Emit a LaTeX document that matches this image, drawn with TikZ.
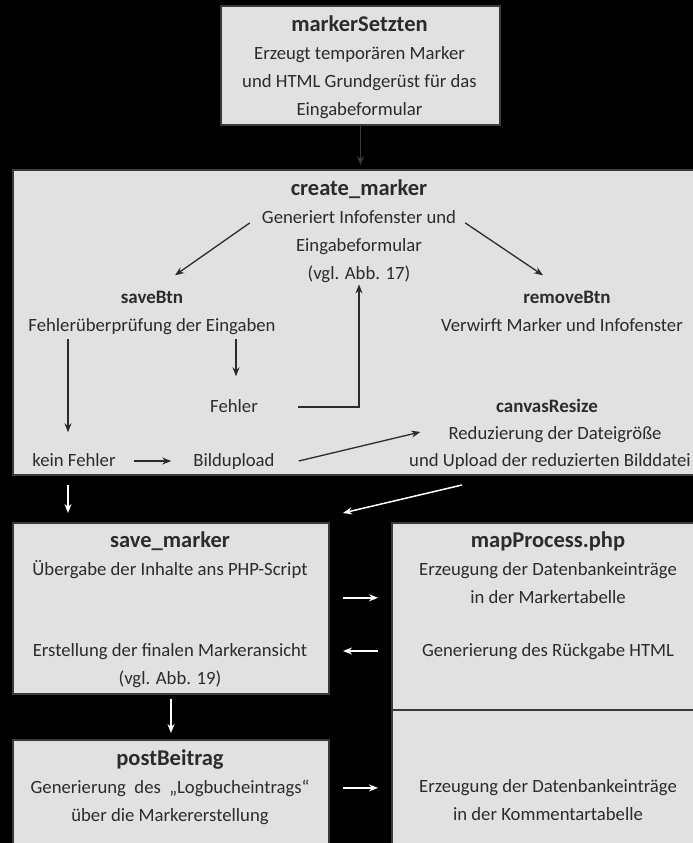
\documentclass[tikz,border=0pt]{standalone}
\usepackage{fontspec}
\setmainfont{Carlito}
\usetikzlibrary{positioning,arrows.meta}

\definecolor{boxfill}{HTML}{E1E1E1}
\definecolor{boxline}{HTML}{3A3A3A}
\definecolor{ink}{HTML}{2B2B2B}

\tikzset{
  box/.style={draw=boxline, line width=2pt, fill=boxfill, inner sep=0pt, anchor=north west},
  boxhead/.style={font=\bfseries\fontsize{22.5}{26}\selectfont, text=ink, inner sep=0pt, text height=14pt, text depth=3pt},
  head/.style={font=\bfseries\fontsize{19}{22}\selectfont, text=ink, inner sep=0pt, text height=14pt, text depth=3pt},
  txt/.style={font=\fontsize{18.7}{22}\selectfont, text=ink, inner sep=0pt, text height=14pt, text depth=3pt},
  darrow/.style={draw=ink, line width=1.3pt, -{Stealth[length=9pt,width=7pt]}},
  warrow/.style={draw=white, line width=1.5pt, -{Stealth[length=9pt,width=7pt]}},
  node distance=10.5pt
}

\begin{document}
\begin{tikzpicture}[x=1pt,y=-1pt]
\fill[black] (0,0) rectangle (693,843);
\useasboundingbox (0,0) rectangle (693,843);
\clip (0,0) rectangle (693,843);

% boxes
\node[box, minimum width=279pt, minimum height=119pt] (setzten) at (220,5) {};
\node[box, minimum width=700pt, minimum height=305pt] (create) at (12,169) {};
\node[box, minimum width=316pt, minimum height=171pt] (savem) at (12,522) {};
\node[box, minimum width=330pt, minimum height=187pt] (mapp) at (391,522) {};
\node[box, minimum width=330pt, minimum height=150pt] (kommbox) at (391,709) {};
\node[box, minimum width=316pt, minimum height=130pt] (postb) at (12,739) {};

% markerSetzten
\node[boxhead] (ms) at (359.5,26) {markerSetzten};
\node[txt, below=of ms] (ms1) {Erzeugt temporären Marker};
\node[txt, below=of ms1] (ms2) {und HTML Grundgerüst für das};
\node[txt, below=of ms2] (ms3) {Eingabeformular};

% create_marker
\node[boxhead] (cm) at (359,190) {create\_marker};
\node[txt, below=of cm] (gen) {Generiert Infofenster und};
\node[txt, below=of gen] (eing) {Eingabeformular};
\node[txt, below=of eing] (vgl17) {(vgl. Abb. 17)};
\node[head] (savebtn) at (152,298) {saveBtn};
\node[txt, below=of savebtn] (fpr) {Fehlerüberprüfung der Eingaben};
\node[head] (removebtn) at (567,298) {removeBtn};
\node[txt, below=of removebtn, xshift=-5pt] (verw) {Verwirft Marker und Infofenster};
\node[txt] (fehler) at (234,407) {Fehler};
\node[head] (canvas) at (547,407) {canvasResize};
\node[txt] (reduz) at (555,434) {Reduzierung der Dateigröße};
\node[txt, anchor=west] (upl) at (409,461) {und Upload der reduzierten Bilddatei};
\node[txt] (keinf) at (74,461) {kein Fehler};
\node[txt] (bild) at (234,461) {Bildupload};

% save_marker
\node[boxhead] (sm) at (170,542) {save\_marker};
\node[txt, below=of sm] (uebg) {Übergabe der Inhalte ans PHP-Script};
\node[txt] (erst) at (170,651) {Erstellung der finalen Markeransicht};
\node[txt, below=of erst] (vgl19) {(vgl. Abb. 19)};

% mapProcess.php
\node[boxhead] (mp) at (548,542) {mapProcess.php};
\node[txt, below=of mp] (erz1) {Erzeugung der Datenbankeinträge};
\node[txt, below=of erz1] (inmt) {in der Markertabelle};
\node[txt] (rueck) at (548,651) {Generierung des Rückgabe HTML};

% postBeitrag
\node[boxhead] (pb) at (170,760) {postBeitrag};
\node[txt, below=of pb] (genlog) {Generierung~ des~ „Logbucheintrags“};
\node[txt, below=of genlog] (ueber) {über die Markererstellung};
\node[txt] (erz2) at (548,787) {Erzeugung der Datenbankeinträge};
\node[txt, below=of erz2] (komm) {in der Kommentartabelle};

% arrows in the boxes
\draw[darrow, draw=boxline, shorten >=4pt] (setzten.south) -- (setzten.south |- create.north);
\draw[darrow] ([xshift=-12pt,yshift=-5pt]gen.west) -- ([xshift=23pt,yshift=14pt]savebtn.north);
\draw[darrow] ([xshift=9pt,yshift=-5pt]gen.east) -- ([xshift=-24pt,yshift=14pt]removebtn.north);
\draw[darrow, shorten <=4pt, shorten >=20pt] ([xshift=-6pt]keinf.north |- fpr.south) -- ([xshift=-6pt]keinf.north);
\draw[darrow, shorten <=4pt, shorten >=22pt] ([xshift=2pt]fehler.north |- fpr.south) -- ([xshift=2pt]fehler.north);
\draw[darrow, shorten >=2pt] ([xshift=40pt]fehler.east) -| (vgl17.south);
\draw[darrow, shorten <=18pt, shorten >=22pt] (keinf) -- (bild);
\draw[darrow] ([xshift=24pt]bild.east) -- ([xshift=-28pt,yshift=2pt]reduz.west);

% arrows between the boxes
\draw[warrow, shorten <=9pt, shorten >=9pt] ([xshift=56pt]create.south west) -- ([xshift=56pt]savem.north west);
\draw[warrow] ([xshift=450pt,yshift=-9pt]create.south west) -- ([xshift=13pt,yshift=9pt]savem.north east);
\draw[warrow, shorten <=13pt, shorten >=13pt] (savem.east |- inmt) -- (mapp.west |- inmt);
\draw[warrow, shorten <=13pt, shorten >=13pt] (mapp.west |- rueck) -- (savem.east |- rueck);
\draw[warrow, shorten <=4pt, shorten >=6pt] (savem) -- (postb);
\draw[warrow, shorten <=13pt, shorten >=13pt] (postb.east |- genlog) -- (kommbox.west |- genlog);
\end{tikzpicture}
\end{document}
